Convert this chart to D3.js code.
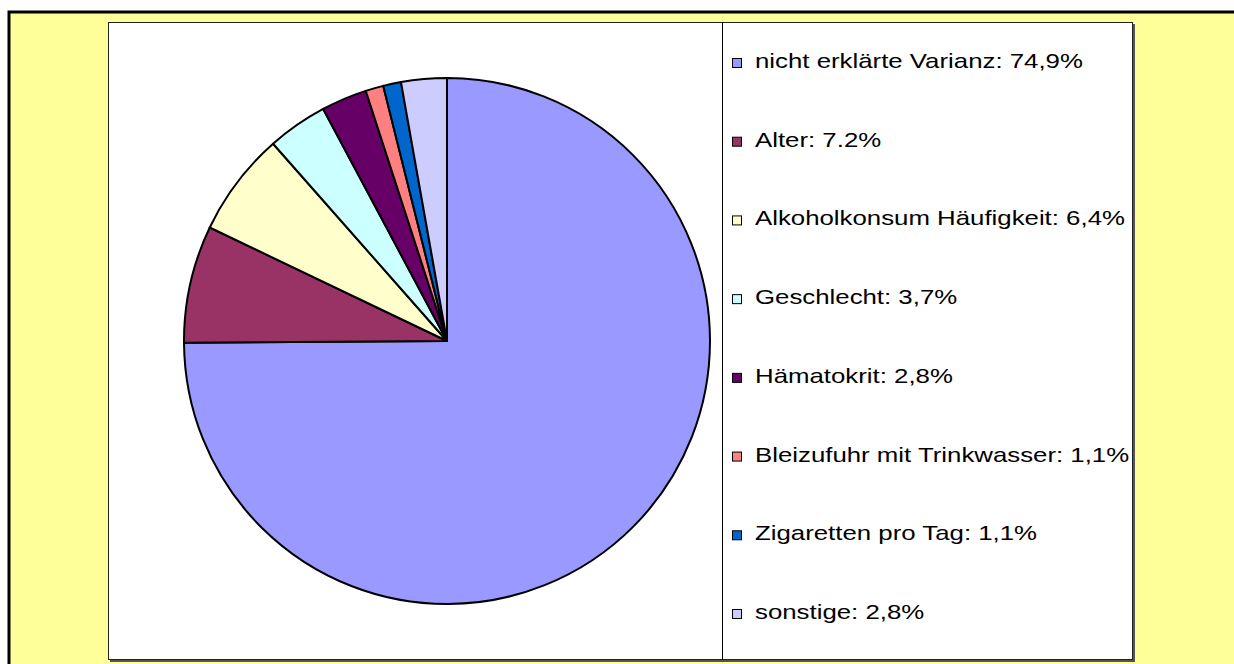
<!DOCTYPE html>
<html>
<head>
<meta charset="utf-8">
<script src="https://cdn.jsdelivr.net/npm/d3@7"></script>
<style>
  body { margin: 0; background: #fff; }
  svg { display: block; }
</style>
</head>
<body>
<svg></svg>
<script>
// Data
const categories = [
  "nicht erklärte Varianz", "Alter", "Alkoholkonsum Häufigkeit", "Geschlecht",
  "Hämatokrit", "Bleizufuhr mit Trinkwasser", "Zigaretten pro Tag", "sonstige"
];
const values = [74.9, 7.2, 6.4, 3.7, 2.8, 1.1, 1.1, 2.8];
const colors = ["#9999FF", "#993366", "#FFFFCC", "#CCFFFF", "#660066", "#FF8080", "#0066CC", "#CCCCFF"];

const W = 1234, H = 664;
const plot = { left: 108, top: 22, right: 1133, bottom: 660 };
const legendX = 722;

const svg = d3.select("svg").attr("width", W).attr("height", H);

// Yellow chart area with black border
svg.append("rect")
  .attr("x", 9).attr("y", 12)
  .attr("width", W + 10).attr("height", H + 10)
  .attr("fill", "#FFFF99")
  .attr("stroke", "#000").attr("stroke-width", 3);

// Plot area shadow + white box
svg.append("rect")
  .attr("x", plot.left + 2).attr("y", plot.top + 2)
  .attr("width", plot.right - plot.left).attr("height", plot.bottom - plot.top)
  .attr("fill", "#555");
svg.append("rect")
  .attr("x", plot.left + 0.5).attr("y", plot.top + 0.5)
  .attr("width", plot.right - plot.left - 1).attr("height", plot.bottom - plot.top - 1)
  .attr("fill", "#fff")
  .attr("stroke", "#222").attr("stroke-width", 1);

// Legend separator
svg.append("line")
  .attr("x1", legendX + 0.5).attr("x2", legendX + 0.5)
  .attr("y1", plot.top).attr("y2", plot.bottom)
  .attr("stroke", "#000").attr("stroke-width", 1);

// Pie
const cx = 447, cy = 341, radius = 263;
const pie = d3.pie().sort(null).value(d => d);
const arc = d3.arc().innerRadius(0).outerRadius(radius);

svg.append("g")
  .attr("transform", `translate(${cx}, ${cy})`)
  .selectAll("path")
  .data(pie(values))
  .join("path")
  .attr("d", arc)
  .attr("fill", (d, i) => colors[i])
  .attr("stroke", "#000")
  .attr("stroke-width", 2)
  .attr("stroke-linejoin", "round");

// Legend
const yLegend = d3.scalePoint()
  .domain(categories)
  .range([68, 619]);

// "Alter" uses a dot in the original, the rest a comma
const fmt = (v, i) => {
  const s = d3.format(".1f")(v);
  return (i === 1 ? s : s.replace(".", ",")) + "%";
};
const labels = categories.map((c, i) => `${c}: ${fmt(values[i], i)}`);

const legend = svg.append("g")
  .selectAll("g")
  .data(categories)
  .join("g")
  .attr("transform", d => `translate(0, ${yLegend(d)})`);

legend.append("rect")
  .attr("x", 732.5).attr("y", -9.5)
  .attr("width", 9).attr("height", 9)
  .attr("fill", (d, i) => colors[i])
  .attr("stroke", "#000").attr("stroke-width", 1);

// text in the original is stretched horizontally
legend.append("text")
  .attr("transform", "translate(755, 0) scale(1.29, 1)")
  .attr("font-family", "Liberation Sans, Arial, sans-serif")
  .attr("font-size", 20)
  .attr("fill", "#000")
  .text((d, i) => labels[i]);
</script>
</body>
</html>
